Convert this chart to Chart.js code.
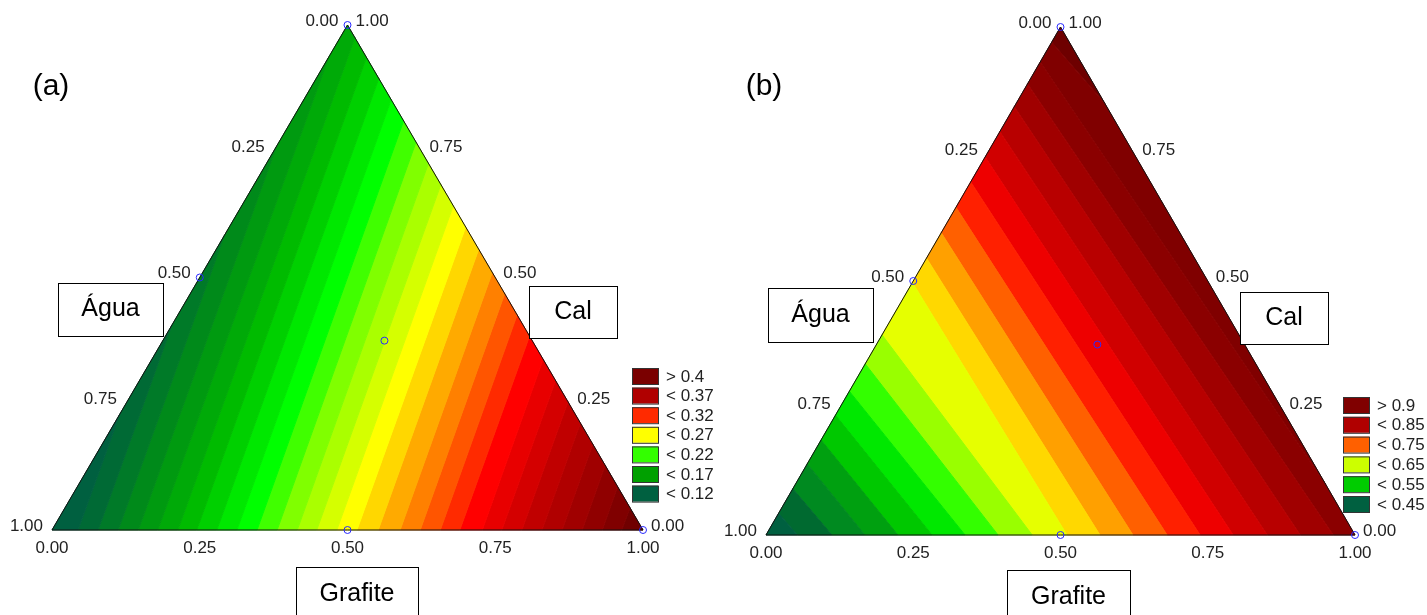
<!DOCTYPE html>
<html>
<head>
<title>Ternary contour plots</title>
<script src="https://cdn.jsdelivr.net/npm/chart.js"></script>
<style>
  body { margin: 0; background: #fff; width: 1427px; height: 615px; overflow: hidden; position: relative; }
  .panel { position: absolute; top: 0; height: 615px; }
</style>
</head>
<body>
<div class="panel" style="left:0;width:713px"><canvas id="chartA"></canvas></div>
<div class="panel" style="left:713px;width:714px"><canvas id="chartB"></canvas></div>
<script>
// ---------- panel (a) ----------
// contour levels and where each contour line meets the triangle edges
const levelsA = [0.12, 0.13, 0.14, 0.15, 0.16, 0.17, 0.18, 0.19, 0.20, 0.21, 0.22, 0.23, 0.24, 0.25,
                 0.26, 0.27, 0.28, 0.29, 0.30, 0.31, 0.32, 0.33, 0.34, 0.35, 0.36, 0.37, 0.38, 0.39];
const bottomA = [0.044, 0.078, 0.112, 0.146, 0.179, 0.213, 0.245, 0.279, 0.313, 0.347, 0.381, 0.415, 0.448, 0.482,
                 0.516, 0.552, 0.589, 0.623, 0.657, 0.690, 0.728, 0.761, 0.795, 0.829, 0.863, 0.897, 0.931, 0.964]; // Grafite
const leftA = [0.77, 0.594, 0.416, 0.24, 0.063, null, null, null, null, null, null, null, null, null,
               null, null, null, null, null, null, null, null, null, null, null, null, null, null]; // Água
const rightA = [null, null, null, null, null, 0.975, 0.936, 0.894, 0.852, 0.810, 0.768, 0.726, 0.684, 0.642,
                0.600, 0.556, 0.510, 0.468, 0.426, 0.384, 0.338, 0.296, 0.254, 0.212, 0.170, 0.128, 0.086, 0.044]; // Cal
const colorsA = ['#006040', '#006a35', '#007a28', '#008a1a', '#009a10', '#00aa08', '#00bb00', '#00d000', '#00e800', '#00ff00',
                 '#40ff00', '#80ff00', '#aaff00', '#d5ff00', '#ffff00', '#ffd700', '#ffaa00', '#ff8000', '#ff5500', '#ff2a00',
                 '#ff0000', '#e80000', '#d40000', '#c00000', '#b00000', '#a00000', '#900000', '#800000', '#700000'];
const legendLabelsA = ['> 0.4', '< 0.37', '< 0.32', '< 0.27', '< 0.22', '< 0.17', '< 0.12'];
const legendColorsA = ['#7a0000', '#b00000', '#ff2a00', '#ffff00', '#33ff00', '#00a000', '#006040'];

// ---------- panel (b) ----------
const levelsB = [0.45, 0.475, 0.50, 0.525, 0.55, 0.575, 0.60, 0.625, 0.65, 0.675,
                 0.70, 0.725, 0.75, 0.775, 0.80, 0.825, 0.85, 0.875, 0.90];
const bottomB = [0.053, 0.112, 0.168, 0.224, 0.282, 0.338, 0.394, 0.452, 0.511, 0.567,
                 0.623, 0.681, 0.737, 0.793, 0.851, 0.907, 0.963, null, null];
const leftB = [0.957, 0.909, 0.860, 0.813, 0.764, 0.717, 0.663, 0.606, 0.503, 0.455,
               0.405, 0.355, 0.305, 0.256, 0.206, 0.157, 0.112, 0.069, 0.030];
const rightB = [null, null, null, null, null, null, null, null, null, null,
                null, null, null, null, null, null, null, 0.10, 0.85];
const colorsB = ['#006040', '#006a30', '#008a20', '#00a010', '#00c800', '#00e800', '#33ff00', '#99ff00', '#e6ff00', '#ffd800',
                 '#ffa000', '#ff6000', '#ff2000', '#ee0000', '#d00000', '#b80000', '#a00000', '#8b0000', '#800000', '#6e0000'];
const legendLabelsB = ['> 0.9', '< 0.85', '< 0.75', '< 0.65', '< 0.55', '< 0.45'];
const legendColorsB = ['#800000', '#b00000', '#ff6000', '#ccff00', '#00cc00', '#006040'];

// shared
const tickValues = [0, 0.25, 0.5, 0.75, 1];
const designAgua = [0, 0.5, 0.25, 0.5, 0];
const designCal = [1, 0.5, 0.375, 0, 0];
const designGrafite = [0, 0, 0.375, 0.5, 1];

const H = Math.sqrt(3) / 2;
function toXY(a, c, g) { return { x: g + c / 2, y: c * H }; }

function contourEnds(bottom, left, right, i) {
  const pts = [];
  if (bottom[i] != null) pts.push(toXY(1 - bottom[i], 0, bottom[i]));
  if (left[i] != null) pts.push(toXY(left[i], 1 - left[i], 0));
  if (right[i] != null) pts.push(toXY(0, right[i], 1 - right[i]));
  return pts;
}

// keep the part of poly on the low side (side of the Água vertex) or the high side of line p-q
function clip(poly, p, q, keepLow) {
  const side = pt => (q.x - p.x) * (pt.y - p.y) - (q.y - p.y) * (pt.x - p.x);
  const lowSign = Math.sign(side({ x: 0, y: 0 }));
  const keep = pt => keepLow ? side(pt) * lowSign >= 0 : side(pt) * lowSign <= 0;
  const out = [];
  for (let i = 0; i < poly.length; i++) {
    const cur = poly[i], nxt = poly[(i + 1) % poly.length];
    const kc = keep(cur), kn = keep(nxt);
    if (kc) out.push(cur);
    if (kc !== kn) {
      const sc = side(cur), sn = side(nxt);
      const t = sc / (sc - sn);
      out.push({ x: cur.x + t * (nxt.x - cur.x), y: cur.y + t * (nxt.y - cur.y) });
    }
  }
  return out;
}

function bandPolygons(levels, bottom, left, right) {
  const tri = [toXY(1, 0, 0), toXY(0, 0, 1), toXY(0, 1, 0)];
  const lines = levels.map((_, i) => contourEnds(bottom, left, right, i));
  const polys = [];
  for (let k = 0; k <= levels.length; k++) {
    let poly = tri.slice();
    if (k < levels.length) poly = clip(poly, lines[k][0], lines[k][1], true);
    if (k > 0) poly = clip(poly, lines[k - 1][0], lines[k - 1][1], false);
    if (poly.length) poly.push(poly[0]);
    polys.push(poly);
  }
  return polys;
}

// axis range so that value v0 lands on pixel p0 and v1 on pixel p1
function range(v0, p0, v1, p1, size) {
  const k = (p1 - p0) / (v1 - v0);
  const min = v0 - p0 / k;
  return { min: Math.min(min, min + size / k), max: Math.max(min, min + size / k) };
}

const FONT = '"Liberation Sans", Arial, sans-serif';

function makeChart(id, cfg) {
  const polys = bandPolygons(cfg.levels, cfg.bottom, cfg.left, cfg.right);
  const datasets = polys.map((poly, k) => ({
    data: poly, showLine: true, fill: 'shape', tension: 0,
    backgroundColor: cfg.colors[k], borderColor: cfg.colors[k], borderWidth: 1,
    pointRadius: 0, order: 2
  }));
  datasets.push({
    data: [toXY(1, 0, 0), toXY(0, 0, 1), toXY(0, 1, 0), toXY(1, 0, 0)],
    showLine: true, fill: false, borderColor: '#111', borderWidth: 1, pointRadius: 0, order: 1
  });
  datasets.push({
    data: designAgua.map((a, i) => toXY(a, designCal[i], designGrafite[i])),
    showLine: false, pointRadius: 3.5, pointBorderWidth: 1,
    pointBorderColor: '#2a2aff', pointBackgroundColor: 'rgba(0,0,0,0)', order: 0
  });

  const xr = range(0, cfg.bl[0], 1, cfg.br[0], cfg.w);
  const yr = range(0, cfg.bl[1], H, cfg.top, 615);

  const labels = {
    id: 'ternaryLabels',
    afterDraw(chart) {
      const ctx = chart.ctx, sx = chart.scales.x, sy = chart.scales.y;
      const px = p => [sx.getPixelForValue(p.x), sy.getPixelForValue(p.y)];
      ctx.save();
      ctx.fillStyle = '#222';
      ctx.font = '17px ' + FONT;
      ctx.textBaseline = 'middle';
      tickValues.forEach(v => {
        // Água on left edge
        let [x, y] = px(toXY(v, 1 - v, 0));
        ctx.textAlign = 'right';
        ctx.fillText(v.toFixed(2), x - 9, y - 4);
        // Cal on right edge
        [x, y] = px(toXY(0, v, 1 - v));
        ctx.textAlign = 'left';
        ctx.fillText(v.toFixed(2), x + 8, y - 4);
        // Grafite on bottom edge
        [x, y] = px(toXY(1 - v, 0, v));
        ctx.textAlign = 'center';
        ctx.fillText(v.toFixed(2), x, y + 18);
      });

      // panel tag
      ctx.fillStyle = '#000';
      ctx.font = '30px ' + FONT;
      ctx.textAlign = 'center';
      ctx.fillText(cfg.tag, 51, 87);

      // component boxes
      ctx.font = '25px ' + FONT;
      ctx.strokeStyle = '#000';
      ctx.lineWidth = 1;
      cfg.boxes.forEach(b => {
        ctx.fillStyle = '#fff';
        ctx.fillRect(b.x, b.y, b.w, b.h);
        ctx.strokeRect(b.x + 0.5, b.y + 0.5, b.w, b.h);
        ctx.fillStyle = '#000';
        ctx.fillText(b.text, b.x + b.w / 2, b.y + (b.ty || b.h / 2));
      });

      // legend
      ctx.font = '17px ' + FONT;
      ctx.textAlign = 'left';
      cfg.legendLabels.forEach((t, i) => {
        const y = cfg.legend[1] + i * cfg.legend[2];
        ctx.fillStyle = cfg.legendColors[i];
        ctx.fillRect(cfg.legend[0], y, 26, 16);
        ctx.strokeStyle = '#333';
        ctx.strokeRect(cfg.legend[0] + 0.5, y + 0.5, 26, 16);
        ctx.fillStyle = '#222';
        ctx.fillText(t, cfg.legend[0] + 34, y + 9);
      });
      ctx.restore();
    }
  };

  return new Chart(document.getElementById(id), {
    type: 'line',
    data: { datasets },
    options: {
      responsive: true,
      maintainAspectRatio: false,
      animation: false,
      events: [],
      layout: { padding: 0, autoPadding: false },
      plugins: { legend: { display: false }, tooltip: { enabled: false } },
      scales: {
        x: { type: 'linear', display: false, min: xr.min, max: xr.max },
        y: { type: 'linear', display: false, min: yr.min, max: yr.max }
      }
    },
    plugins: [labels]
  });
}

makeChart('chartA', {
  levels: levelsA, bottom: bottomA, left: leftA, right: rightA, colors: colorsA,
  legendLabels: legendLabelsA, legendColors: legendColorsA,
  w: 713, bl: [52, 530], br: [643, 530], top: 25, tag: '(a)',
  legend: [632, 368, 19.6],
  boxes: [
    { text: 'Água', x: 58, y: 283, w: 105, h: 53 },
    { text: 'Cal', x: 529, y: 286, w: 88, h: 52 },
    { text: 'Grafite', x: 296, y: 567, w: 122, h: 60, ty: 27 }
  ]
});

makeChart('chartB', {
  levels: levelsB, bottom: bottomB, left: leftB, right: rightB, colors: colorsB,
  legendLabels: legendLabelsB, legendColors: legendColorsB,
  w: 714, bl: [53, 535], br: [642, 535], top: 27, tag: '(b)',
  legend: [630, 397, 19.8],
  boxes: [
    { text: 'Água', x: 55, y: 288, w: 105, h: 54 },
    { text: 'Cal', x: 527, y: 292, w: 88, h: 52 },
    { text: 'Grafite', x: 294, y: 570, w: 123, h: 60, ty: 27 }
  ]
});
</script>
</body>
</html>
